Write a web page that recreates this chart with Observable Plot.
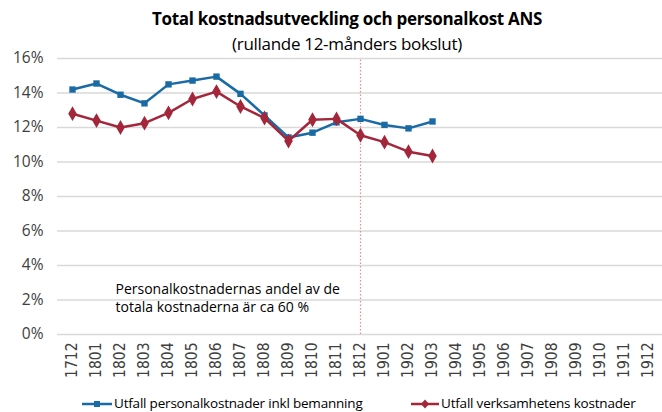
<!DOCTYPE html>
<html><head><meta charset="utf-8">
<script src="https://cdn.jsdelivr.net/npm/d3@7"></script>
<script src="https://cdn.jsdelivr.net/npm/@observablehq/plot@0.6"></script>
<style>
body{margin:0;background:#fff;font-family:"Open Sans",sans-serif;color:#404040;}
#wrap{position:relative;width:662px;height:412px;overflow:hidden;}
#title{position:absolute;left:0;top:7px;width:694px;text-align:center;font-weight:bold;font-size:17px;color:#000;letter-spacing:-0.3px;}
#sub{position:absolute;left:0;top:32px;width:694px;text-align:center;font-size:17px;color:#000;letter-spacing:-0.3px;}
#chart{position:absolute;left:0;top:40px;}
.leg{position:absolute;top:394px;font-size:13.5px;color:#000;white-space:nowrap;letter-spacing:-0.2px;}
.leg svg{vertical-align:middle;margin-right:2px;}
</style></head><body>
<div id="wrap">
<div id="title">Total kostnadsutveckling och personalkost ANS</div>
<div id="sub">(rullande 12-månders bokslut)</div>
<div id="chart"></div>
<div class="leg" style="left:82px"><svg width="30" height="10"><line x1="0" y1="5" x2="30" y2="5" stroke="#1a6aa5" stroke-width="2.5"/><rect x="12" y="2" width="6" height="6" fill="#1a6aa5"/></svg>Utfall personalkostnader inkl bemanning</div>
<div class="leg" style="left:411px"><svg width="28" height="10"><line x1="0" y1="5" x2="28" y2="5" stroke="#a3263a" stroke-width="2.5"/><path d="M14 0.5L18 5L14 9.5L10 5Z" fill="#a3263a"/></svg>Utfall verksamhetens kostnader</div>
</div>
<script>
const months = ["1712","1801","1802","1803","1804","1805","1806","1807","1808","1809","1810","1811","1812","1901","1902","1903","1904","1905","1906","1907","1908","1909","1910","1911","1912"];
const personalMonths = ["1712","1801","1802","1803","1804","1805","1806","1807","1808","1809","1810","1811","1812","1901","1902","1903"];
const personal = [14.2,14.55,13.9,13.4,14.5,14.72,14.95,13.95,12.7,11.42,11.7,12.3,12.5,12.15,11.95,12.35];
const verksamhet = [12.8,12.4,12.0,12.25,12.85,13.65,14.08,13.22,12.55,11.22,12.45,12.5,11.55,11.15,10.6,10.35];
const yTicks = [0,2,4,6,8,10,12,14,16];
const markerMonth = "1812";
const noteLines = ["Personalkostnadernas andel av de","totala kostnaderna är ca 60 %"];

const pData = personalMonths.map((m,i)=>({m, v: personal[i]}));
const vData = personalMonths.map((m,i)=>({m, v: verksamhet[i]}));
const blue = "#1a6aa5", red = "#a3263a";

const chart = Plot.plot({
  width: 662, height: 350,
  marginLeft: 57, marginRight: 0, marginTop: 18, marginBottom: 56,
  style: {fontFamily: "Open Sans, sans-serif", background: "transparent", overflow: "visible"},
  x: {type: "point", domain: months, padding: 0.5, label: null},
  y: {domain: [0,16], label: null},
  marks: [
    Plot.ruleY(yTicks, {stroke: "#d9d9d9", strokeWidth: 1.3}),
    Plot.ruleX([markerMonth], {y1: 0, y2: 16, stroke: "#e88a8a", strokeDasharray: "1.5,2", strokeWidth: 1.2}),
    Plot.axisY(yTicks, {tickSize: 0, tickPadding: 14, fontSize: 15.5, fill: "#404040", tickFormat: d => d + "%"}),
    Plot.axisX(months, {tickSize: 0, tickRotate: -90, tickPadding: 8, fontSize: 15.5, fill: "#404040", fontFamily: "DejaVu Sans Condensed, Open Sans, sans-serif"}),
    Plot.line(pData, {x: "m", y: "v", stroke: blue, strokeWidth: 2.5}),
    Plot.dot(pData, {x: "m", y: "v", symbol: "square", r: 3.6, fill: blue}),
    Plot.line(vData, {x: "m", y: "v", stroke: red, strokeWidth: 2.5}),
    Plot.dot(vData, {x: "m", y: "v", symbol: "diamond", r: 4.5, fill: red}),
    Plot.text([noteLines.join("\n")], {x: () => "1802", y: () => 2.15, dx: -5, textAnchor: "start", fontSize: 14, fill: "#000", lineHeight: 1.3})
  ]
});
document.getElementById("chart").appendChild(chart);
</script>
</body></html>
